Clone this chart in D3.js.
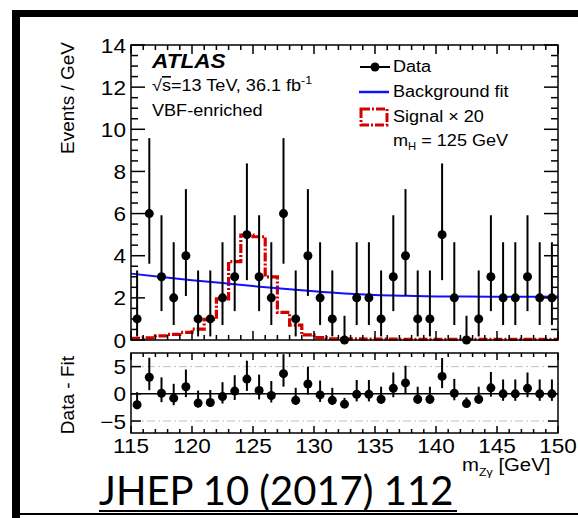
<!DOCTYPE html>
<html><head><meta charset="utf-8">
<script src="https://cdn.jsdelivr.net/npm/d3@7/dist/d3.min.js"></script>
<style>html,body{margin:0;padding:0;background:#fff;}svg{display:block;}</style>
</head><body>
<svg id="c" width="578" height="518"></svg>
<script>
// ---- data ----
const binCenters = [115.5,116.5,117.5,118.5,119.5,120.5,121.5,122.5,123.5,124.5,125.5,126.5,127.5,128.5,129.5,130.5,131.5,132.5,133.5,134.5,135.5,136.5,137.5,138.5,139.5,140.5,141.5,142.5,143.5,144.5,145.5,146.5,147.5,148.5,149.5];
const dataCounts = [1,6,3,2,4,1,1,2,3,5,3,2,6,1,4,2,1,0,2,2,1,3,4,1,1,5,2,0,1,3,2,2,3,2,2];
const errLow  = [0.83,2.38,1.63,1.29,1.91,0.83,0.83,1.29,1.63,2.16,1.63,1.29,2.38,0.83,1.91,1.29,0.83,0,1.29,1.29,0.83,1.63,1.91,0.83,0.83,2.16,1.29,0,0.83,1.63,1.29,1.29,1.63,1.29,1.29];
const errHigh = [2.30,3.58,2.92,2.64,3.16,2.30,2.30,2.64,2.92,3.38,2.92,2.64,3.58,2.30,3.16,2.64,2.30,1.15,2.64,2.64,2.30,2.92,3.16,2.30,2.30,3.38,2.64,1.15,2.30,2.92,2.64,2.64,2.92,2.64,2.64];
const residuals = [-2.0,3.05,0.1,-0.8,1.3,-1.7,-1.6,-0.5,0.5,2.7,0.6,-0.3,3.7,-1.2,1.8,-0.2,-1.2,-1.9,-0.1,-0.1,-1.0,1.0,2.0,-1.0,-1.0,3.2,0.1,-1.8,-1.0,1.1,0.0,0.0,1.0,0.0,0.0];
const fitX = [115,117.5,120,122.5,125,127.5,130,132.5,135,137.5,140,142.5,145,147.5,150];
const fitY = [3.15,2.99,2.84,2.70,2.56,2.43,2.31,2.21,2.14,2.10,2.07,2.06,2.05,2.05,2.06];
const sigEdges = [115,116,117,118,119,120,121,122,123,124,125,126,127,128,129,130,131,132,133,134,135,136,137,138,139,140,141,142,143,144,145,146,147,148,149,150];
const sigVals = [0.08,0.1,0.2,0.27,0.36,0.52,0.98,1.95,3.72,4.98,4.9,3.0,1.31,0.71,0.24,0.11,0.06,0.05,0.05,0.04,0.04,0.04,0.03,0.03,0.03,0.03,0.03,0.03,0.03,0.03,0.03,0.03,0.03,0.03,0.03];
const xTicks = [115,120,125,130,135,140,145,150];
const yTicksTop = [0,2,4,6,8,10,12,14];
const yTicksBot = [-5,0,5];

// ---- setup ----
const svg = d3.select('#c');
const SX = 1.13; // horizontal stretch of text
const FONT = "'Liberation Sans', Arial, Helvetica, sans-serif";
function txt(x, y, s, o = {}) {
  const t = svg.append('text')
    .attr('transform', `translate(${x},${y}) ${o.rot ? 'rotate(' + o.rot + ')' : ''} scale(${o.sx || SX},1)`)
    .attr('font-family', o.family || FONT)
    .attr('font-size', o.size || 16)
    .attr('fill', o.fill || '#000')
    .attr('text-anchor', o.anchor || 'start');
  if (o.weight) t.attr('font-weight', o.weight);
  if (o.style) t.attr('font-style', o.style);
  if (s != null) t.text(s);
  return t;
}

const L = 131, R = 558;
const x = d3.scaleLinear().domain([115,150]).range([L,R]);
const yT = d3.scaleLinear().domain([0,14]).range([340,45]);
const yB = d3.scaleLinear().domain([-7.2,7.5]).range([433,353]);

// outer frame
svg.append('rect').attr('x',12).attr('y',10).attr('width',8).attr('height',508).attr('fill','#000');
svg.append('rect').attr('x',12).attr('y',10).attr('width',566).attr('height',7).attr('fill','#000');
svg.append('rect').attr('x',12).attr('y',513).attr('width',566).attr('height',2).attr('fill','#000');

// ---- top panel ----
const gT = svg.append('g');
// signal histogram
const sigLine = d3.line().x(d=>x(d[0])).y(d=>yT(d[1])).curve(d3.curveStepAfter);
const sigPts = sigVals.map((v,i)=>[sigEdges[i],v]);
sigPts.push([sigEdges[sigEdges.length-1], sigVals[sigVals.length-1]]);
gT.append('path').attr('d', sigLine(sigPts)).attr('fill','none')
  .attr('stroke','#d40000').attr('stroke-width',3.2).attr('stroke-dasharray','9,2,2,2');
// background fit
gT.append('path').attr('d', d3.line().x((d,i)=>x(fitX[i])).y(d=>yT(d)).curve(d3.curveMonotoneX)(fitY))
  .attr('fill','none').attr('stroke','#1010ff').attr('stroke-width',2);
// data
binCenters.forEach((c,i)=>{
  gT.append('line').attr('x1',x(c)).attr('x2',x(c))
    .attr('y1',yT(dataCounts[i]-errLow[i])).attr('y2',yT(dataCounts[i]+errHigh[i]))
    .attr('stroke','#000').attr('stroke-width',2);
  gT.append('circle').attr('cx',x(c)).attr('cy',yT(dataCounts[i])).attr('r',4.5).attr('fill','#000');
});
// frame & ticks
gT.append('rect').attr('x',L).attr('y',45).attr('width',R-L).attr('height',295)
  .attr('fill','none').attr('stroke','#000').attr('stroke-width',1.5);
function ticksY(g, scale, vals, minorStep, major, minor, dom) {
  const minorVals = d3.range(dom[0], dom[1]+1e-9, minorStep);
  minorVals.forEach(v=>{
    const isMaj = vals.some(m=>Math.abs(m-v)<1e-6);
    const len = isMaj ? major : minor;
    g.append('line').attr('x1',L).attr('x2',L+len).attr('y1',scale(v)).attr('y2',scale(v)).attr('stroke','#000').attr('stroke-width',1.5);
    g.append('line').attr('x1',R).attr('x2',R-len).attr('y1',scale(v)).attr('y2',scale(v)).attr('stroke','#000').attr('stroke-width',1.5);
  });
}
function ticksX(g, yTop, yBot, major, minor) {
  d3.range(115,150.001,1).forEach(v=>{
    const isMaj = v % 5 === 0;
    const len = isMaj ? major : minor;
    g.append('line').attr('x1',x(v)).attr('x2',x(v)).attr('y1',yTop).attr('y2',yTop+len).attr('stroke','#000').attr('stroke-width',1.5);
    g.append('line').attr('x1',x(v)).attr('x2',x(v)).attr('y1',yBot).attr('y2',yBot-len).attr('stroke','#000').attr('stroke-width',1.5);
  });
}
ticksY(gT, yT, yTicksTop, 0.5, 14, 7, [0,14]);
ticksX(gT, 45, 340, 9, 5);
yTicksTop.forEach(v=>txt(126, yT(v)+7.5, String(v), {anchor:'end', size:20}));

// ---- bottom panel ----
const gB = svg.append('g');
[-5,5].forEach(v=>gB.append('line').attr('x1',L).attr('x2',R).attr('y1',yB(v)).attr('y2',yB(v))
  .attr('stroke','#c0c0c0').attr('stroke-width',1).attr('stroke-dasharray','8,3,2,3'));
gB.append('line').attr('x1',L).attr('x2',R).attr('y1',yB(0)).attr('y2',yB(0)).attr('stroke','#000').attr('stroke-width',1.5);
binCenters.forEach((c,i)=>{
  gB.append('line').attr('x1',x(c)).attr('x2',x(c))
    .attr('y1',yB(residuals[i]-errLow[i])).attr('y2',yB(residuals[i]+errHigh[i]))
    .attr('stroke','#000').attr('stroke-width',2);
  gB.append('circle').attr('cx',x(c)).attr('cy',yB(residuals[i])).attr('r',4.5).attr('fill','#000');
});
gB.append('rect').attr('x',L).attr('y',353).attr('width',R-L).attr('height',80)
  .attr('fill','none').attr('stroke','#000').attr('stroke-width',1.5);
yTicksBot.forEach(v=>{
  gB.append('line').attr('x1',L).attr('x2',L+10).attr('y1',yB(v)).attr('y2',yB(v)).attr('stroke','#000').attr('stroke-width',1.5);
  gB.append('line').attr('x1',R).attr('x2',R-10).attr('y1',yB(v)).attr('y2',yB(v)).attr('stroke','#000').attr('stroke-width',1.5);
  txt(126, yB(v)+7.5, v<0 ? '\u2212'+Math.abs(v) : String(v), {anchor:'end', size:20});
});
ticksX(gB, 353, 433, 7, 4);
xTicks.forEach(v=>txt(x(v), 453, String(v), {anchor:'middle', size:20}));

// axis titles
txt(74, 42, 'Events / GeV', {rot:-90, anchor:'end', size:19, sx:1});
txt(74, 356, 'Data - Fit', {rot:-90, anchor:'end', size:19, sx:1});
const xt = txt(462, 471, null, {size:18});
xt.append('tspan').text('m');
xt.append('tspan').attr('font-size',11).attr('dy',5).text('Z\u03b3');
xt.append('tspan').attr('dy',-5).text(' [GeV]');

// labels
txt(152, 68, 'ATLAS', {size:20, weight:'bold', style:'italic'});
const s1 = txt(152, 91, null, {size:16});
s1.append('tspan').text('\u221a');
s1.append('tspan').attr('text-decoration','overline').text('s');
s1.append('tspan').text('=13 TeV, 36.1 fb');
s1.append('tspan').attr('font-size',11).attr('dy',-7).text('-1');
txt(152, 116, 'VBF-enriched', {size:16});

// legend
svg.append('line').attr('x1',360).attr('x2',390).attr('y1',67).attr('y2',67).attr('stroke','#000').attr('stroke-width',2);
svg.append('circle').attr('cx',375).attr('cy',67).attr('r',4.5).attr('fill','#000');
txt(393, 72, 'Data', {size:16});
svg.append('line').attr('x1',359).attr('x2',389).attr('y1',92).attr('y2',92).attr('stroke','#1010ff').attr('stroke-width',2.5);
txt(393, 97, 'Background fit', {size:16});
svg.append('rect').attr('x',361).attr('y',109).attr('width',26).attr('height',16)
  .attr('fill','none').attr('stroke','#d40000').attr('stroke-width',3).attr('stroke-dasharray','9,2,2,2');
txt(393, 122, 'Signal \u00d7 20', {size:16});
const mh = txt(393, 146, null, {size:16});
mh.append('tspan').text('m');
mh.append('tspan').attr('font-size',10).attr('dy',4).text('H');
mh.append('tspan').attr('dy',-4).text(' = 125 GeV');

// JHEP reference
svg.append('text').attr('x',99).attr('y',505)
  .attr('font-family',"Lato, 'Open Sans', sans-serif").attr('font-size',40)
  .text('JHEP 10 (2017) 112');
svg.append('line').attr('x1',99).attr('x2',457).attr('y1',511).attr('y2',511).attr('stroke','#000').attr('stroke-width',2);
</script>
</body></html>
